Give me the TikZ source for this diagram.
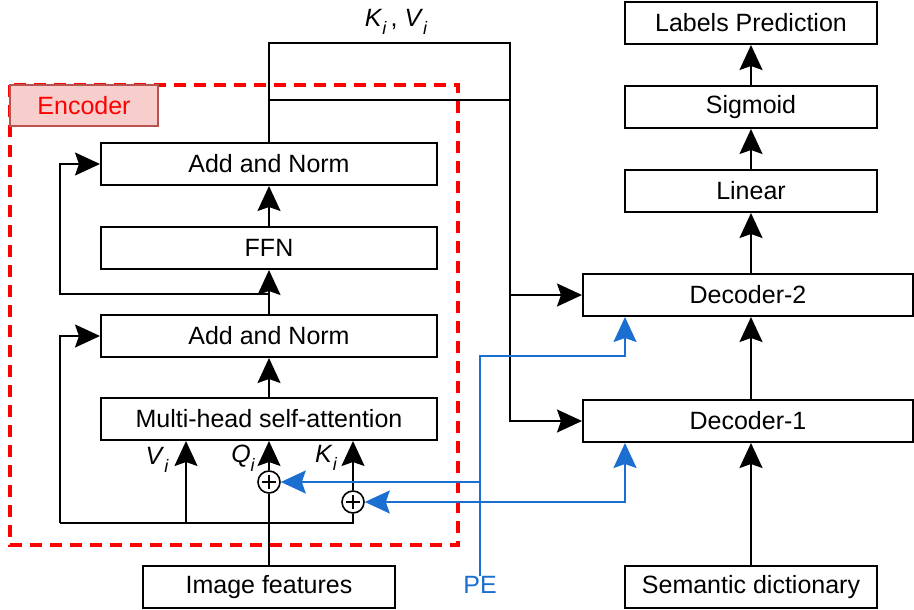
\documentclass[tikz,border=0pt]{standalone}
\usepackage{fontspec}
\setmainfont{Liberation Sans}
\usetikzlibrary{arrows.meta}
\definecolor{peblue}{HTML}{1A6FD0}
\definecolor{encfill}{HTML}{F8CECC}
\definecolor{encdraw}{HTML}{B85450}
\newcommand{\sub}[2]{\textit{#1}\raisebox{-0.35em}{\fontsize{18}{18}\selectfont\itshape #2}}
\begin{document}
\begin{tikzpicture}[x=1pt,y=-1pt,
  font=\fontsize{25}{30}\selectfont,
  box/.style={draw, line width=2pt, minimum height=42pt, inner sep=0pt, fill=white},
  wbox/.style={box, minimum width=336pt},
  nbox/.style={box, minimum width=252pt},
  dbox/.style={box, minimum width=330pt},
  ln/.style={line width=2pt},
  arr/.style={line width=2pt, arrows={-Stealth[length=25pt,width=23pt,inset=4pt]}},
  barr/.style={line width=2pt, draw=peblue, arrows={-Stealth[length=25pt,width=23pt,inset=4pt]}},
  dbarr/.style={line width=2pt, draw=peblue, arrows={Stealth[length=25pt,width=23pt,inset=4pt]-Stealth[length=25pt,width=23pt,inset=4pt]}},
  plus/.style={circle, draw, line width=1.6pt, minimum size=22pt, inner sep=0pt, fill=white}]
\useasboundingbox (0,0) rectangle (914,610);
% encoder frame
\draw[red, line width=3.5pt, dash pattern=on 12pt off 8pt] (10,85) rectangle (458,545);
\node[draw=encdraw, fill=encfill, line width=1.2pt, minimum width=148pt, minimum height=41pt, inner sep=0pt, text=red] (enc) at (84,105.5) {Encoder};
% encoder boxes
\node[wbox] (an1) at (269,164) {Add and Norm};
\node[wbox] (ffn) at (269,248) {FFN};
\node[wbox] (an2) at (269,336) {Add and Norm};
\node[wbox] (mhsa) at (269,419) {Multi-head self-attention};
\node[nbox] (img) at (269,587) {Image features};
\node[text=peblue, inner sep=0pt] (pe) at (480,585) {PE};
% decoder side
\node[nbox] (lp) at (751,23) {Labels Prediction};
\node[nbox] (sig) at (751,107) {Sigmoid};
\node[nbox] (lin) at (751,191) {Linear};
\node[dbox] (d2) at (748,295) {Decoder-2};
\node[dbox] (d1) at (748,421) {Decoder-1};
\node[nbox] (sem) at (751,587) {Semantic dictionary};
% plus circles
\node[plus] (pq) at (269,482) {};
\node[plus] (pk) at (353,502) {};
\draw[line width=1.6pt] ([yshift=-7pt]pq.center) -- ([yshift=7pt]pq.center) ([xshift=-7pt]pq.center) -- ([xshift=7pt]pq.center);
\draw[line width=1.6pt] ([yshift=-7pt]pk.center) -- ([yshift=7pt]pk.center) ([xshift=-7pt]pk.center) -- ([xshift=7pt]pk.center);
% coordinates
\coordinate (tl) at (269,43);
\coordinate (tr) at (510,43);
\coordinate (j1) at (269,100);
\coordinate (j2) at (510,100);
\coordinate (j3) at (510,295);
\coordinate (r1) at (269,294);
\coordinate (r1x) at (60,294);
\coordinate (bk) at (353,523);
\coordinate (bl) at (60,523);
\coordinate (bv) at (186,523);
\coordinate (pv) at (625,356);
\coordinate (pqj) at (480,482);
\coordinate (pk2) at (625,502);
% encoder internal arrows
\draw[arr] (ffn) -- (an1);
\draw[arr] (an2) -- (ffn);
\draw[arr] (mhsa) -- (an2);
\draw[arr] (r1) -- (r1x) |- (an1.west);
\draw[ln] (pk) -- (bk) -- (bl);
\draw[arr] (bl) |- (an2.west);
\draw[arr] (bv) -- (bv |- mhsa.south);
\draw[ln] (img.north) -- (pq);
\draw[arr] (pq) -- (pq |- mhsa.south);
\draw[arr] (pk) -- (pk |- mhsa.south);
% K V output
\draw[arr] (an1.north) -- (tl) -- (tr) |- (d1.west);
\draw[ln] (j1) -- (j2);
\draw[arr] (j3) -- (d2.west);
% decoder arrows
\draw[arr] (sem) -- (sem |- d1.south);
\draw[arr] (d1.north -| sem) -- (sem |- d2.south);
\draw[arr] (d2.north -| sem) -- (lin);
\draw[arr] (lin) -- (sig);
\draw[arr] (sig) -- (lp);
% PE
\draw[barr] (pe.north) |- (pv) -- (d2.south -| pv);
\draw[barr] (pqj) -- (pq.east);
\draw[dbarr] (pk.east) -- (pk2) -- (d1.south -| pk2);
% labels
\node (lv) at (157,460) {\sub{V}{i}};
\node (lq) at (243,458) {\sub{Q}{i}};
\node (lk) at (326,458) {\sub{K}{i}};
\node (lkv) at (396,22) {\sub{K}{i}\,, \sub{V}{i}};
\end{tikzpicture}
\end{document}
